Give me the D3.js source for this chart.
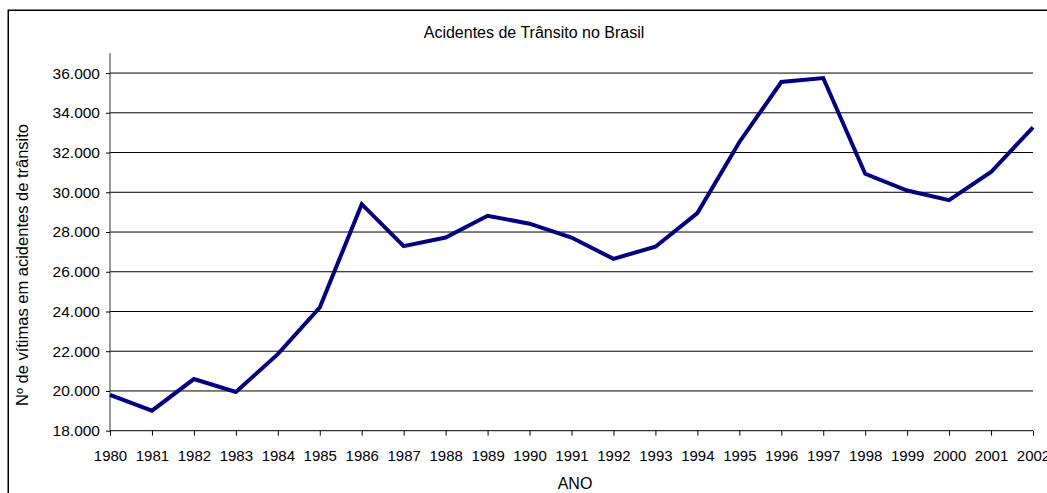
<!DOCTYPE html>
<html><head><meta charset="utf-8">
<script src="https://cdn.jsdelivr.net/npm/d3@7"></script>
<style>
html,body{margin:0;padding:0;background:#fff;}
svg{display:block;font-family:"Liberation Sans",Arial,sans-serif;}
</style></head>
<body>
<svg id="chart" width="1047" height="493"></svg>
<script>
const years = [1980,1981,1982,1983,1984,1985,1986,1987,1988,1989,1990,1991,1992,1993,1994,1995,1996,1997,1998,1999,2000,2001,2002];
const victims = [19800,19010,20600,19950,21850,24200,29400,27290,27720,28820,28420,27720,26650,27260,28950,32520,35550,35750,30930,30090,29600,31020,33270];
const yTicks = [18000,20000,22000,24000,26000,28000,30000,32000,34000,36000];
const title = "Acidentes de Trânsito no Brasil";
const yLabel = "Nº de vítimas em acidentes de trânsito";
const xLabel = "ANO";

(function(){
const svg = d3.select("#chart");
const pL = 110, pR = 1033, pT = 53.2, pB = 430.7;

// outer border
svg.append("rect").attr("x",8.25).attr("y",10.25).attr("width",1100).attr("height",600)
  .attr("fill","none").attr("stroke","#000").attr("stroke-width",1.5);

const x = d3.scalePoint().domain(years).range([pL,pR]);
const y = d3.scaleLinear().domain([18000,37000]).range([pB,pT]);

const fmtK = v => d3.format(",.0f")(v).replace(/,/g,".");

// gridlines
svg.append("g").selectAll("line").data(yTicks.slice(1)).join("line")
  .attr("x1",pL).attr("x2",pR).attr("y1",d=>y(d)).attr("y2",d=>y(d))
  .attr("stroke","#000").attr("stroke-width",1);

// y axis
const yAxis = d3.axisLeft(y).tickValues(yTicks).tickSize(4).tickPadding(6).tickFormat(fmtK);
const gy = svg.append("g").attr("transform",`translate(${pL},0)`).call(yAxis);
gy.select(".domain").attr("stroke","#333").attr("d",`M0,${pT}V${pB}`);
gy.selectAll(".tick line").attr("stroke","#000");
gy.selectAll("text").attr("font-size",15.5).attr("fill","#000").attr("font-family","Liberation Sans, Arial, sans-serif");

// x axis
const xAxis = d3.axisBottom(x).tickSize(5).tickPadding(15).tickFormat(d=>d);
const gx = svg.append("g").attr("transform",`translate(0,${pB})`).call(xAxis);
gx.select(".domain").attr("stroke","#000").attr("d",`M${pL},0H${pR}`);
gx.selectAll(".tick line").attr("stroke","#000");
gx.selectAll("text").attr("font-size",15).attr("fill","#000").attr("font-family","Liberation Sans, Arial, sans-serif");

// line
const line = d3.line().x((d,i)=>x(years[i])).y(d=>y(d));
svg.append("path").datum(victims).attr("d",line)
  .attr("fill","none").attr("stroke","#000080").attr("stroke-width",4)
  .attr("stroke-linejoin","miter");

// title & labels
svg.append("text").attr("x",534).attr("y",38).attr("text-anchor","middle")
  .attr("font-size",16).attr("fill","#000").text(title);
svg.append("text").attr("transform","translate(28,265) rotate(-90)").attr("text-anchor","middle")
  .attr("font-size",16.5).attr("fill","#000").text(yLabel);
svg.append("text").attr("x",575).attr("y",489).attr("text-anchor","middle")
  .attr("font-size",16).attr("fill","#000").text(xLabel);
})();
</script>
</body></html>
